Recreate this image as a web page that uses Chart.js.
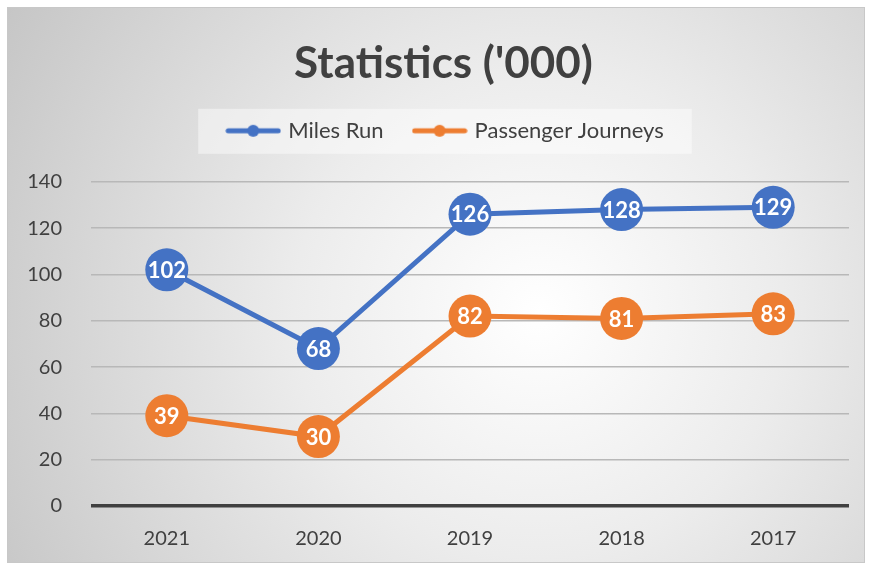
<!DOCTYPE html>
<html>
<head>
<meta charset="utf-8">
<script src="https://cdn.jsdelivr.net/npm/chart.js@4"></script>
<style>
  html, body { margin: 0; padding: 0; background: #fff; }
  #frame {
    position: absolute; left: 7px; top: 7px; width: 858px; height: 556px;
    box-sizing: border-box; border: 1px solid #c8c8c8;
    background: radial-gradient(circle farthest-corner at 62% 55%, #ffffff 0%, #ececec 40%, #c6c6c6 100%);
  }
  #statsChart { display: block; }
</style>
</head>
<body>
<div id="frame"><canvas id="statsChart" width="856" height="554"></canvas></div>
<script>
//Chart data
const years = ["2021", "2020", "2019", "2018", "2017"];
const milesRun = [102, 68, 126, 128, 129];
const passengerJourneys = [39, 30, 82, 81, 83];
const yTicks = [0, 20, 40, 60, 80, 100, 120, 140];

const blue = "#4472C4";
const orange = "#ED7D31";
const fontFamily = "Lato, 'Open Sans', sans-serif";

//Legend marker: line with a dot in the middle
function legendMarker(color) {
    const c = document.createElement("canvas");
    c.width = 56;
    c.height = 14;
    const g = c.getContext("2d");
    g.strokeStyle = color;
    g.lineWidth = 5;
    g.lineCap = "round";
    g.beginPath();
    g.moveTo(3, 7);
    g.lineTo(53, 7);
    g.stroke();
    g.fillStyle = color;
    g.beginPath();
    g.arc(28, 7, 6, 0, Math.PI * 2);
    g.fill();
    return c;
}
const markers = [legendMarker(blue), legendMarker(orange)];

//Extra room under the legend
const legendGap = {
    id: "legendGap",
    beforeInit(chart) {
        const fit = chart.legend.fit;
        chart.legend.fit = function () {
            fit.bind(chart.legend)();
            this.height += 28;
        };
    },
    //Title and legend sit a bit right of centre in the original
    afterLayout(chart) {
        const t = chart.titleBlock;
        t.left += 15;
        t.right += 15;
        const lg = chart.legend;
        lg.left += 18;
        lg.right += 18;
        lg.top -= 2;
        lg.bottom -= 2;
    }
};

//Lighter box behind the legend
const legendBox = {
    id: "legendBox",
    beforeDraw(chart) {
        const boxes = chart.legend.legendHitBoxes;
        if (!boxes || !boxes.length) return;
        const first = boxes[0];
        const last = boxes[boxes.length - 1];
        const cy = first.top + first.height / 2;
        const ctx = chart.ctx;
        ctx.save();
        ctx.fillStyle = "rgba(255,255,255,0.45)";
        ctx.fillRect(first.left - 31, cy - 22, last.left + last.width - first.left + 59, 45);
        ctx.restore();
    }
};

//Values written inside the points
const pointLabels = {
    id: "pointLabels",
    afterDatasetsDraw(chart) {
        const ctx = chart.ctx;
        ctx.save();
        ctx.font = "bold 22px " + fontFamily;
        ctx.fillStyle = "#ffffff";
        ctx.textAlign = "center";
        ctx.textBaseline = "middle";
        chart.data.datasets.forEach((ds, i) => {
            chart.getDatasetMeta(i).data.forEach((pt, j) => {
                ctx.fillText(String(ds.data[j]), pt.x, pt.y + 1);
            });
        });
        ctx.restore();
    }
};

const ctx = document.getElementById("statsChart").getContext("2d");
new Chart(ctx, {
    type: "line",
    data: {
        labels: years,
        datasets: [
            {
                label: "Miles Run",
                data: milesRun,
                borderColor: blue,
                backgroundColor: blue,
                borderWidth: 5,
                pointRadius: 21.5,
                pointHoverRadius: 21.5,
                pointBorderWidth: 0
            },
            {
                label: "Passenger Journeys",
                data: passengerJourneys,
                borderColor: orange,
                backgroundColor: orange,
                borderWidth: 5,
                pointRadius: 21.5,
                pointHoverRadius: 21.5,
                pointBorderWidth: 0
            }
        ]
    },
    options: {
        responsive: false,
        animation: false,
        layout: { autoPadding: false, padding: { left: 0, right: 15, top: 17, bottom: 0 } },
        plugins: {
            title: {
                display: true,
                text: "Statistics ('000)",
                color: "#404040",
                font: { family: fontFamily, size: 44, weight: "bold" },
                padding: { top: 12, bottom: 0 }
            },
            legend: {
                position: "top",
                labels: {
                    usePointStyle: true,
                    pointStyleWidth: 48,
                    generateLabels(chart) {
                        return chart.data.datasets.map((ds, i) => ({
                            text: ds.label,
                            fillStyle: ds.borderColor,
                            strokeStyle: ds.borderColor,
                            pointStyle: markers[i],
                            lineWidth: 0,
                            fontColor: "#404040",
                            datasetIndex: i
                        }));
                    },
                    color: "#404040",
                    font: { family: fontFamily, size: 22 },
                    padding: 32,
                    boxHeight: 14
                }
            },
            tooltip: { enabled: false }
        },
        scales: {
            x: {
                offset: true,
                grid: { display: false },
                border: { display: false },
                afterFit(axis) { axis.height = 56; },
                ticks: { color: "#404040", font: { family: fontFamily, size: 20 }, padding: 13 }
            },
            y: {
                min: 0,
                max: 140,
                afterBuildTicks(axis) {
                    axis.ticks = yTicks.map(v => ({ value: v }));
                },
                afterFit(axis) { axis.width = 83; },
                border: { display: false },
                grid: {
                    drawTicks: false,
                    color: c => (c.tick && c.tick.value === 0 ? "#404040" : "#b8b8b8"),
                    lineWidth: c => (c.tick && c.tick.value === 0 ? 3.5 : 1.5)
                },
                ticks: { color: "#404040", font: { family: fontFamily, size: 20 }, padding: 29 }
            }
        }
    },
    plugins: [legendGap, legendBox, pointLabels]
});
</script>
</body>
</html>
